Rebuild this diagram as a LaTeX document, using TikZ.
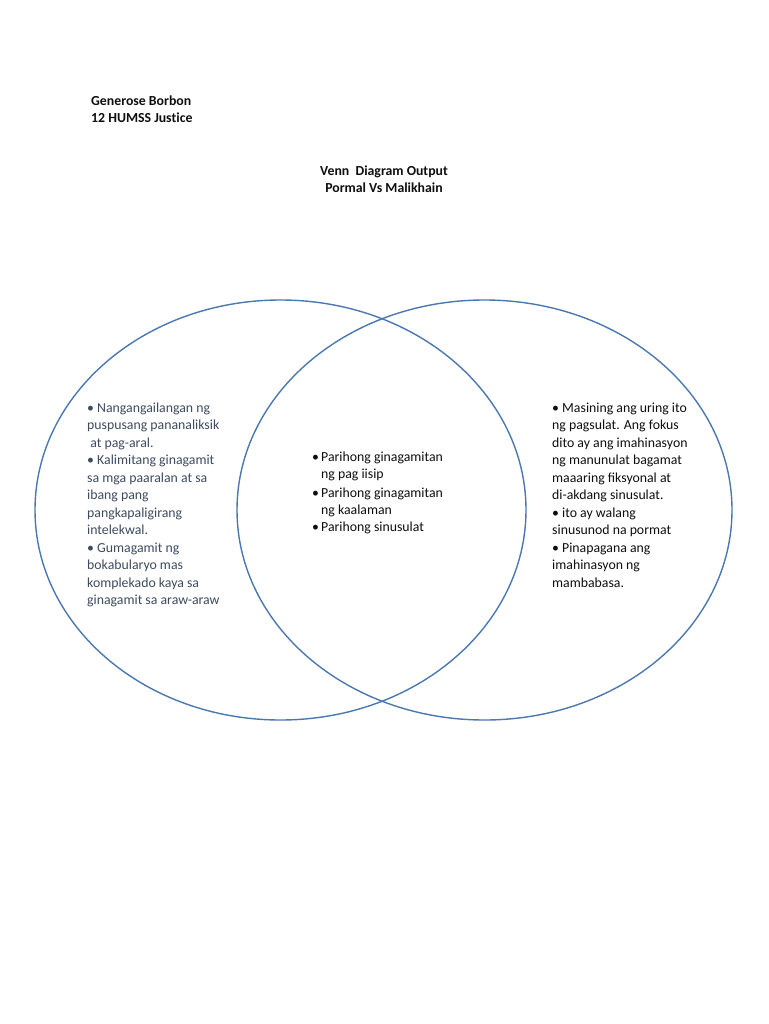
\documentclass[tikz,border=0pt]{standalone}
\usepackage{fontspec}
\setmainfont{Carlito}[RawFeature=-dlig]
\definecolor{vennblue}{RGB}{76,120,176}
\definecolor{slatetext}{RGB}{62,75,96}
\definecolor{bodytext}{RGB}{15,15,15}
\begin{document}
\begin{tikzpicture}[x=1pt,y=-1pt,
  venn/.style={draw=vennblue,line width=1.4pt},
  hdr/.style={inner sep=0pt,anchor=base west,font=\fontsize{13.8}{16.8}\selectfont\bfseries\addfontfeatures{Ligatures=NoCommon},text=bodytext},
  ttl/.style={inner sep=0pt,anchor=base,font=\fontsize{13.8}{16.8}\selectfont\bfseries,text=bodytext},
  ltxt/.style={inner sep=0pt,anchor=base west,font=\fontsize{13.8}{16.8}\selectfont,text=slatetext},
  btxt/.style={inner sep=0pt,anchor=base west,font=\fontsize{13.8}{16.8}\selectfont,text=bodytext}]
\useasboundingbox (0,0) rectangle (768,1024);
\fill[white] (0,0) rectangle (768,1024);
% header
\node[hdr] (name) at (91,106) {Generose Borbon};
\node[hdr] (sect) at (91,123) {12 HUMSS Justice};
\node[ttl] (title1) at (384,176) {Venn\ \ Diagram Output};
\node[ttl] (title2) at (384,193) {Pormal Vs Malikhain};
% ellipses
\draw[venn] (280.5,510) ellipse [x radius=245.5, y radius=210];
\draw[venn] (484.5,510) ellipse [x radius=247.5, y radius=210];
% left block
\foreach \t [count=\i] in {{• Nangangailangan ng},{puspusang pananaliksik},{\ at pag-aral.},{• Kalimitang ginagamit},{sa mga paaralan at sa},{ibang pang},{pangkapaligirang},{intelekwal.},{• Gumagamit ng},{bokabularyo mas},{komplekado kaya sa},{ginagamit sa araw-araw}}
  \node[ltxt] (L\i) at (87,412.5+17.45*\i-17.45) {\t};
% center block
\foreach \t/\xx/\yy [count=\i] in {{•}/312/461, {Parihong ginagamitan}/321/461, {ng pag iisip}/321/478, {•}/312/497.5, {Parihong ginagamitan}/321/497.5, {ng kaalaman}/321/514.5, {•}/312/531.5, {Parihong sinusulat}/321/531.5}
  \node[btxt] (C\i) at (\xx,\yy) {\t};
% right block
\foreach \t [count=\i] in {{• Masining ang uring ito},{ng pagsulat. Ang fokus},{dito ay ang imahinasyon},{ng manunulat bagamat},{maaaring fiksyonal at},{di-akdang sinusulat.},{• ito ay walang},{sinusunod na pormat},{• Pinapagana ang},{imahinasyon ng},{mambabasa.}}
  \node[btxt] (R\i) at (552,412.5+17.45*\i-17.45) {\t};
\end{tikzpicture}
\end{document}
